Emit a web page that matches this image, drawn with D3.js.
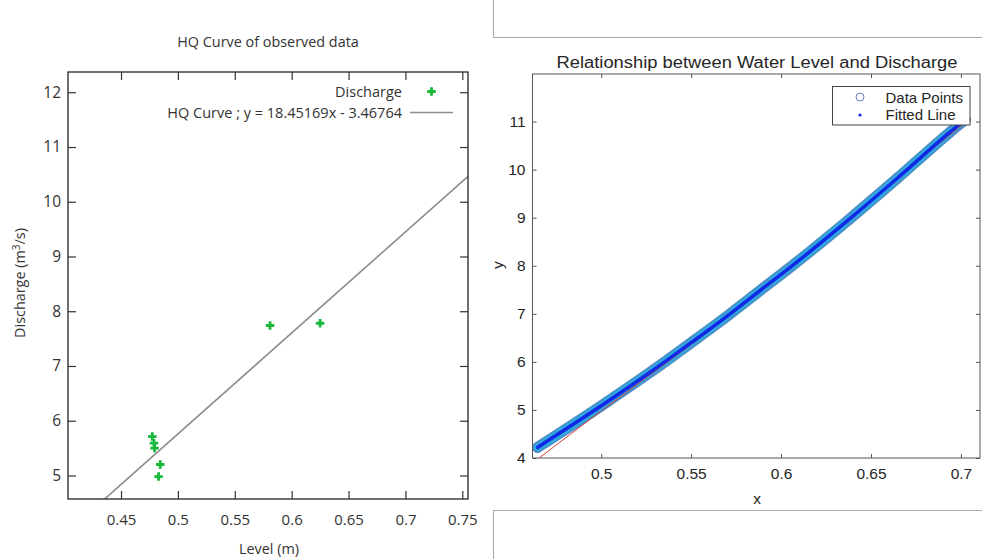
<!DOCTYPE html>
<meta charset="utf-8">
<head>
<style>
body { margin: 0; background-color: white; }
.lft text { font-family: "Open Sans", sans-serif; fill: #333; }
.rgt text { font-family: "Liberation Sans", Arial, sans-serif; fill: #262626; }
</style>
</head>
<script src="https://d3js.org/d3.v7.min.js"></script>
<div id="my_dataviz"></div>
<script>

// ---- left chart data (HQ curve of observed data)
var levels    = [0.581, 0.625, 0.4775, 0.479, 0.4795, 0.4845, 0.483];
var discharge = [7.74, 7.78, 5.71, 5.59, 5.50, 5.20, 4.98];
var leftXTicks = [0.45, 0.5, 0.55, 0.6, 0.65, 0.7, 0.75];
var leftYTicks = [5, 6, 7, 8, 9, 10, 11, 12];
var slope = 18.45169, intercept = -3.46764;

// ---- right chart data (relationship between water level and discharge)
var fitX = [0.4646, 0.4994, 0.529, 0.5504, 0.5717, 0.592, 0.6031, 0.6383, 0.6643, 0.6939, 0.6994, 0.7025];
var fitY = [4.22, 5.07, 5.83, 6.41, 7.00, 7.59, 7.91, 8.98, 9.81, 10.78, 10.95, 11.04];
var refX = [0.4655, 0.5, 0.55, 0.6, 0.65, 0.7, 0.7025];
var refY = [4.0, 4.98, 6.36, 7.80, 9.35, 10.90, 10.97];
var rightXTicks = [0.5, 0.55, 0.6, 0.65, 0.7];
var rightYTicks = [4, 5, 6, 7, 8, 9, 10, 11];

var svg = d3.select("#my_dataviz")
  .append("svg")
    .attr("width", 982)
    .attr("height", 559);

// ================= left chart =================
var L = {left: 68, right: 468, top: 72, bottom: 499};
var lg = svg.append("g").attr("class", "lft");

var x1 = d3.scaleLinear().domain([0.4034, 0.755]).range([L.left, L.right]);
var y1 = d3.scaleLinear().domain([4.57, 12.37]).range([L.bottom, L.top]);

lg.append("clipPath").attr("id", "clipL")
  .append("rect")
    .attr("x", L.left).attr("y", L.top)
    .attr("width", L.right - L.left).attr("height", L.bottom - L.top);

// fitted HQ line
var lineX = [x1.domain()[0], x1.domain()[1]];
lg.append("line")
  .attr("clip-path", "url(#clipL)")
  .attr("x1", x1(lineX[0])).attr("y1", y1(slope * lineX[0] + intercept))
  .attr("x2", x1(lineX[1])).attr("y2", y1(slope * lineX[1] + intercept))
  .attr("stroke", "#8c8c8c")
  .attr("stroke-width", 1.6);

// ticks on all four sides, pointing in
lg.append("g")
  .attr("transform", "translate(0," + L.bottom + ")")
  .call(d3.axisBottom(x1).tickValues(leftXTicks).tickSizeInner(-8).tickSizeOuter(0).tickPadding(15).tickFormat(d3.format("")))
  .call(function(g) { g.select(".domain").remove(); })
  .selectAll("text").attr("font-size", "15px");
lg.append("g")
  .attr("transform", "translate(0," + L.top + ")")
  .call(d3.axisTop(x1).tickValues(leftXTicks).tickSizeInner(-8).tickSizeOuter(0).tickFormat(""))
  .call(function(g) { g.select(".domain").remove(); });
lg.append("g")
  .attr("transform", "translate(" + L.left + ",0)")
  .call(d3.axisLeft(y1).tickValues(leftYTicks).tickSizeInner(-8).tickSizeOuter(0).tickPadding(7))
  .call(function(g) { g.select(".domain").remove(); })
  .selectAll("text").attr("font-size", "15.5px");
lg.append("g")
  .attr("transform", "translate(" + L.right + ",0)")
  .call(d3.axisRight(y1).tickValues(leftYTicks).tickSizeInner(-8).tickSizeOuter(0).tickFormat(""))
  .call(function(g) { g.select(".domain").remove(); });
lg.selectAll(".tick line").attr("stroke", "#333").attr("stroke-width", 1.2);

lg.append("rect")
  .attr("x", L.left).attr("y", L.top)
  .attr("width", L.right - L.left).attr("height", L.bottom - L.top)
  .attr("fill", "none").attr("stroke", "#333").attr("stroke-width", 1.4);

// observed points
var cross = d3.symbol().type(d3.symbolCross).size(40);
lg.selectAll(".pt")
  .data(levels)
  .enter()
  .append("path")
    .attr("class", "pt")
    .attr("d", cross)
    .attr("transform", function(d, i) { return "translate(" + x1(d) + "," + y1(discharge[i]) + ")"; })
    .attr("fill", "#18b83a");

// legend
lg.append("text").attr("x", 402).attr("y", 97).attr("text-anchor", "end")
  .attr("font-size", "14.5px").text("Discharge");
lg.append("path").attr("d", cross)
  .attr("transform", "translate(431.5,91.5)").attr("fill", "#18b83a");
lg.append("text").attr("x", 402).attr("y", 118).attr("text-anchor", "end")
  .attr("font-size", "14.5px").text("HQ Curve ; y = 18.45169x - 3.46764");
lg.append("line").attr("x1", 410).attr("x2", 453).attr("y1", 112.5).attr("y2", 112.5)
  .attr("stroke", "#8c8c8c").attr("stroke-width", 1.6);

// titles
lg.append("text").attr("x", 268).attr("y", 47).attr("text-anchor", "middle")
  .attr("font-size", "14.4px").text("HQ Curve of observed data");
lg.append("text").attr("x", 269).attr("y", 554).attr("text-anchor", "middle")
  .attr("font-size", "14.4px").text("Level (m)");
var yl = lg.append("text")
  .attr("transform", "translate(25,283) rotate(-90)")
  .attr("text-anchor", "middle")
  .attr("font-size", "14.4px");
yl.append("tspan").text("Discharge (m");
yl.append("tspan").attr("font-size", "10px").attr("dy", "-5").text("3");
yl.append("tspan").attr("dy", "5").text("/s)");

// ================= right chart =================
var R = {left: 532.5, right: 980, top: 74, bottom: 458};
var rg = svg.append("g").attr("class", "rgt");

// panel boxes above and below
rg.append("rect").attr("x", 493.5).attr("y", -2).attr("width", 500).attr("height", 39.5)
  .attr("fill", "none").attr("stroke", "#a8a8a8");
rg.append("rect").attr("x", 493.5).attr("y", 510.5).attr("width", 500).attr("height", 60)
  .attr("fill", "none").attr("stroke", "#a8a8a8");

var x2 = d3.scaleLinear().domain([0.4618, 0.7106]).range([R.left, R.right]);
var y2 = d3.scaleLinear().domain([4, 11.99]).range([R.bottom, R.top]);

rg.append("g")
  .attr("transform", "translate(0," + R.bottom + ")")
  .call(d3.axisBottom(x2).tickValues(rightXTicks).tickSizeInner(-4).tickSizeOuter(0).tickPadding(10).tickFormat(d3.format("")))
  .call(function(g) { g.select(".domain").remove(); })
  .selectAll("text").attr("font-size", "15.5px");
rg.append("g")
  .attr("transform", "translate(0," + R.top + ")")
  .call(d3.axisTop(x2).tickValues(rightXTicks).tickSizeInner(-4).tickSizeOuter(0).tickFormat(""))
  .call(function(g) { g.select(".domain").remove(); });
rg.append("g")
  .attr("transform", "translate(" + R.left + ",0)")
  .call(d3.axisLeft(y2).tickValues(rightYTicks).tickSizeInner(-4).tickSizeOuter(0).tickPadding(7))
  .call(function(g) { g.select(".domain").remove(); })
  .selectAll("text").attr("font-size", "15.5px");
rg.append("g")
  .attr("transform", "translate(" + R.right + ",0)")
  .call(d3.axisRight(y2).tickValues(rightYTicks).tickSizeInner(-4).tickSizeOuter(0).tickFormat(""))
  .call(function(g) { g.select(".domain").remove(); });
rg.selectAll(".tick line").attr("stroke", "#555");

rg.append("clipPath").attr("id", "clipR")
  .append("rect")
    .attr("x", R.left).attr("y", R.top)
    .attr("width", R.right - R.left).attr("height", R.bottom - R.top);

var plot = rg.append("g").attr("clip-path", "url(#clipR)");

var fitLine = d3.line()
  .x(function(d, i) { return x2(fitX[i]); })
  .y(function(d, i) { return y2(fitY[i]); })
  .curve(d3.curveMonotoneX);
var refLine = d3.line()
  .x(function(d, i) { return x2(refX[i]); })
  .y(function(d, i) { return y2(refY[i]); })
  .curve(d3.curveMonotoneX);

// dense data point markers form a band
plot.append("path").attr("d", fitLine(fitX))
  .attr("fill", "none").attr("stroke", "#4a8fc4").attr("stroke-width", 11).attr("stroke-linecap", "round");
plot.append("path").attr("d", fitLine(fitX))
  .attr("fill", "none").attr("stroke", "#2fa8e0").attr("stroke-width", 8).attr("stroke-linecap", "round");
plot.append("path").attr("d", refLine(refX))
  .attr("fill", "none").attr("stroke", "#d23c3c").attr("stroke-width", 1);
plot.selectAll(".dp")
  .data(fitX)
  .enter()
  .append("circle")
    .attr("class", "dp")
    .attr("cx", function(d) { return x2(d); })
    .attr("cy", function(d, i) { return y2(fitY[i]); })
    .attr("r", 5)
    .attr("fill", "none")
    .attr("stroke", "#5f86c8")
    .attr("stroke-width", 1);
plot.append("path").attr("d", fitLine(fitX))
  .attr("fill", "none").attr("stroke", "#1029e6").attr("stroke-width", 3.5).attr("stroke-linecap", "round");

rg.append("rect")
  .attr("x", R.left).attr("y", R.top)
  .attr("width", R.right - R.left).attr("height", R.bottom - R.top)
  .attr("fill", "none").attr("stroke", "#555").attr("stroke-width", 1);

// legend
rg.append("rect").attr("x", 832.5).attr("y", 86.5).attr("width", 137.5).attr("height", 38.5)
  .attr("fill", "white").attr("stroke", "#444").attr("stroke-width", 1);
rg.append("circle").attr("cx", 860).attr("cy", 97).attr("r", 4)
  .attr("fill", "none").attr("stroke", "#6a7fb8");
rg.append("circle").attr("cx", 860).attr("cy", 115).attr("r", 1.6)
  .attr("fill", "#1029e6");
rg.append("text").attr("x", 885.5).attr("y", 102.5).attr("font-size", "15px").text("Data Points");
rg.append("text").attr("x", 885.5).attr("y", 120).attr("font-size", "15px").text("Fitted Line");

// titles
rg.append("text").attr("x", 757).attr("y", 68).attr("text-anchor", "middle")
  .attr("font-size", "16px")
  .attr("textLength", 401).attr("lengthAdjust", "spacingAndGlyphs")
  .text("Relationship between Water Level and Discharge");
rg.append("text").attr("x", 757).attr("y", 504).attr("text-anchor", "middle")
  .attr("font-size", "15.5px").text("x");
rg.append("text").attr("transform", "translate(503,265) rotate(-90)").attr("text-anchor", "middle")
  .attr("font-size", "15.5px").text("y");

</script>
